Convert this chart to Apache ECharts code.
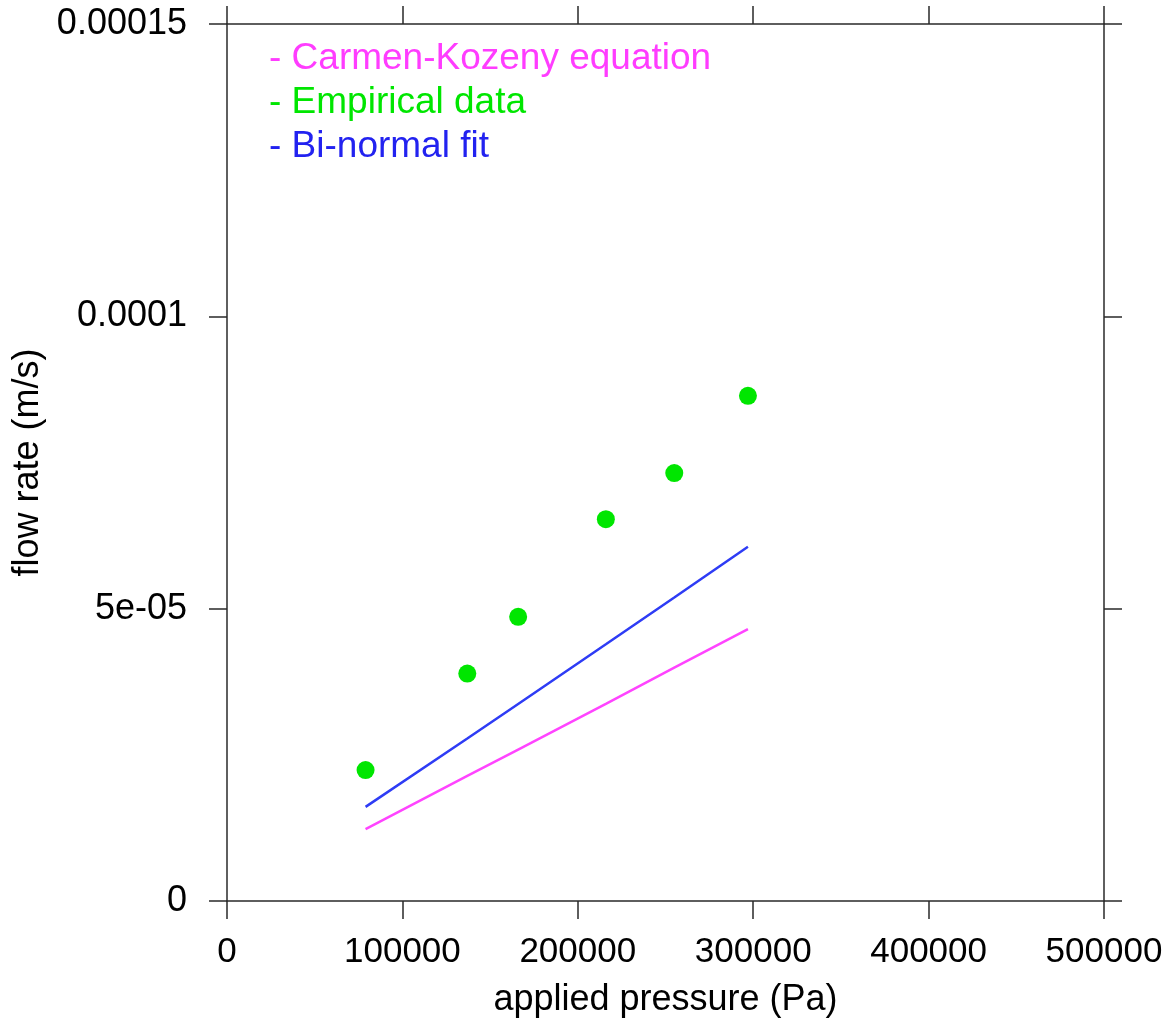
<!DOCTYPE html>
<html>
<head>
<meta charset="utf-8">
<title>Flow rate vs applied pressure</title>
<script src="https://cdn.jsdelivr.net/npm/echarts@6/dist/echarts.min.js"></script>
<style>
  html, body { margin: 0; padding: 0; background: #ffffff; }
  #chart { width: 1172px; height: 1026px; }
</style>
</head>
<body>
<div id="chart"></div>
<script>
// Applied pressure (Pa) at each measurement
const pressure = [79000, 137000, 166000, 216000, 255000, 297000];
// Measured flow rate (m/s)
const empirical = [2.24e-5, 3.89e-5, 4.86e-5, 6.53e-5, 7.32e-5, 8.64e-5];
// Carmen-Kozeny prediction (m/s)
const carmenKozeny = [1.23e-5, 2.14e-5, 2.59e-5, 3.37e-5, 3.99e-5, 4.65e-5];
// Bi-normal fit (m/s)
const biNormal = [1.61e-5, 2.78e-5, 3.37e-5, 4.39e-5, 5.19e-5, 6.06e-5];

// Axis tick labels
const yTickLabels = ['0', '5e-05', '0.0001', '0.00015'];
const xTickLabels = ['0', '100000', '200000', '300000', '400000', '500000'];

const seriesNames = ['Carmen-Kozeny equation', 'Empirical data', 'Bi-normal fit'];
const colors = { ck: '#ff44ff', emp: '#00e600', bn: '#2e3cf5' };
const legendColors = ['#ff3cff', '#00e600', '#2222f0'];

const FONT = '"Liberation Sans", Arial, Helvetica, sans-serif';
const AXIS_COLOR = '#2a2a2a';

const pairs = (xs, ys) => xs.map((x, i) => [x, ys[i]]);

const chart = echarts.init(document.getElementById('chart'), null, { renderer: 'canvas' });

const axisLine = { show: true, onZero: false, lineStyle: { color: AXIS_COLOR, width: 1.5 } };
const axisTick = { show: true, inside: false, length: 18, lineStyle: { color: AXIS_COLOR, width: 1.5 } };

chart.setOption({
  animation: false,
  backgroundColor: '#ffffff',
  textStyle: { fontFamily: FONT },
  grid: { left: 227, right: 68, top: 24, bottom: 125, containLabel: false },
  legend: {
    orient: 'vertical',
    left: 264,
    top: 40,
    padding: 0,
    itemWidth: 0,
    itemHeight: 37,
    itemGap: 7,
    selectedMode: false,
    formatter: name => '- ' + name,
    data: seriesNames.map((n, i) => ({
      name: n,
      icon: 'none',
      textStyle: { color: legendColors[i], fontSize: 37, fontFamily: FONT }
    }))
  },
  xAxis: [
    {
      type: 'value',
      position: 'bottom',
      min: 0, max: 500000, interval: 100000,
      axisLine, axisTick,
      splitLine: { show: false },
      axisLabel: {
        margin: 34,
        fontSize: 35,
        color: '#000000',
        fontFamily: FONT,
        formatter: (v, i) => xTickLabels[i]
      },
      name: 'applied pressure (Pa)',
      nameLocation: 'middle',
      nameGap: 81,
      nameTextStyle: { fontSize: 36, color: '#000000', fontFamily: FONT }
    },
    {
      type: 'value',
      position: 'top',
      min: 0, max: 500000, interval: 100000,
      axisLine, axisTick,
      splitLine: { show: false },
      axisLabel: { show: false }
    }
  ],
  yAxis: [
    {
      type: 'value',
      position: 'left',
      min: 0, max: 0.00015, interval: 0.00005,
      axisLine, axisTick,
      splitLine: { show: false },
      axisLabel: {
        margin: 40,
        fontSize: 36,
        color: '#000000',
        fontFamily: FONT,
        formatter: (v, i) => yTickLabels[i]
      },
      name: 'flow rate (m/s)',
      nameLocation: 'middle',
      nameGap: 180,
      nameTextStyle: { fontSize: 36, color: '#000000', fontFamily: FONT }
    },
    {
      type: 'value',
      position: 'right',
      min: 0, max: 0.00015, interval: 0.00005,
      axisLine, axisTick,
      splitLine: { show: false },
      axisLabel: { show: false }
    }
  ],
  series: [
    {
      name: seriesNames[0],
      type: 'line',
      data: pairs(pressure, carmenKozeny),
      showSymbol: false,
      symbol: 'none',
      lineStyle: { color: colors.ck, width: 2.5 },
      itemStyle: { color: colors.ck }
    },
    {
      name: seriesNames[1],
      type: 'scatter',
      data: pairs(pressure, empirical),
      symbol: 'circle',
      symbolSize: 18,
      itemStyle: { color: colors.emp, opacity: 1 }
    },
    {
      name: seriesNames[2],
      type: 'line',
      data: pairs(pressure, biNormal),
      showSymbol: false,
      symbol: 'none',
      lineStyle: { color: colors.bn, width: 2.5 },
      itemStyle: { color: colors.bn }
    }
  ]
});
</script>
</body>
</html>
